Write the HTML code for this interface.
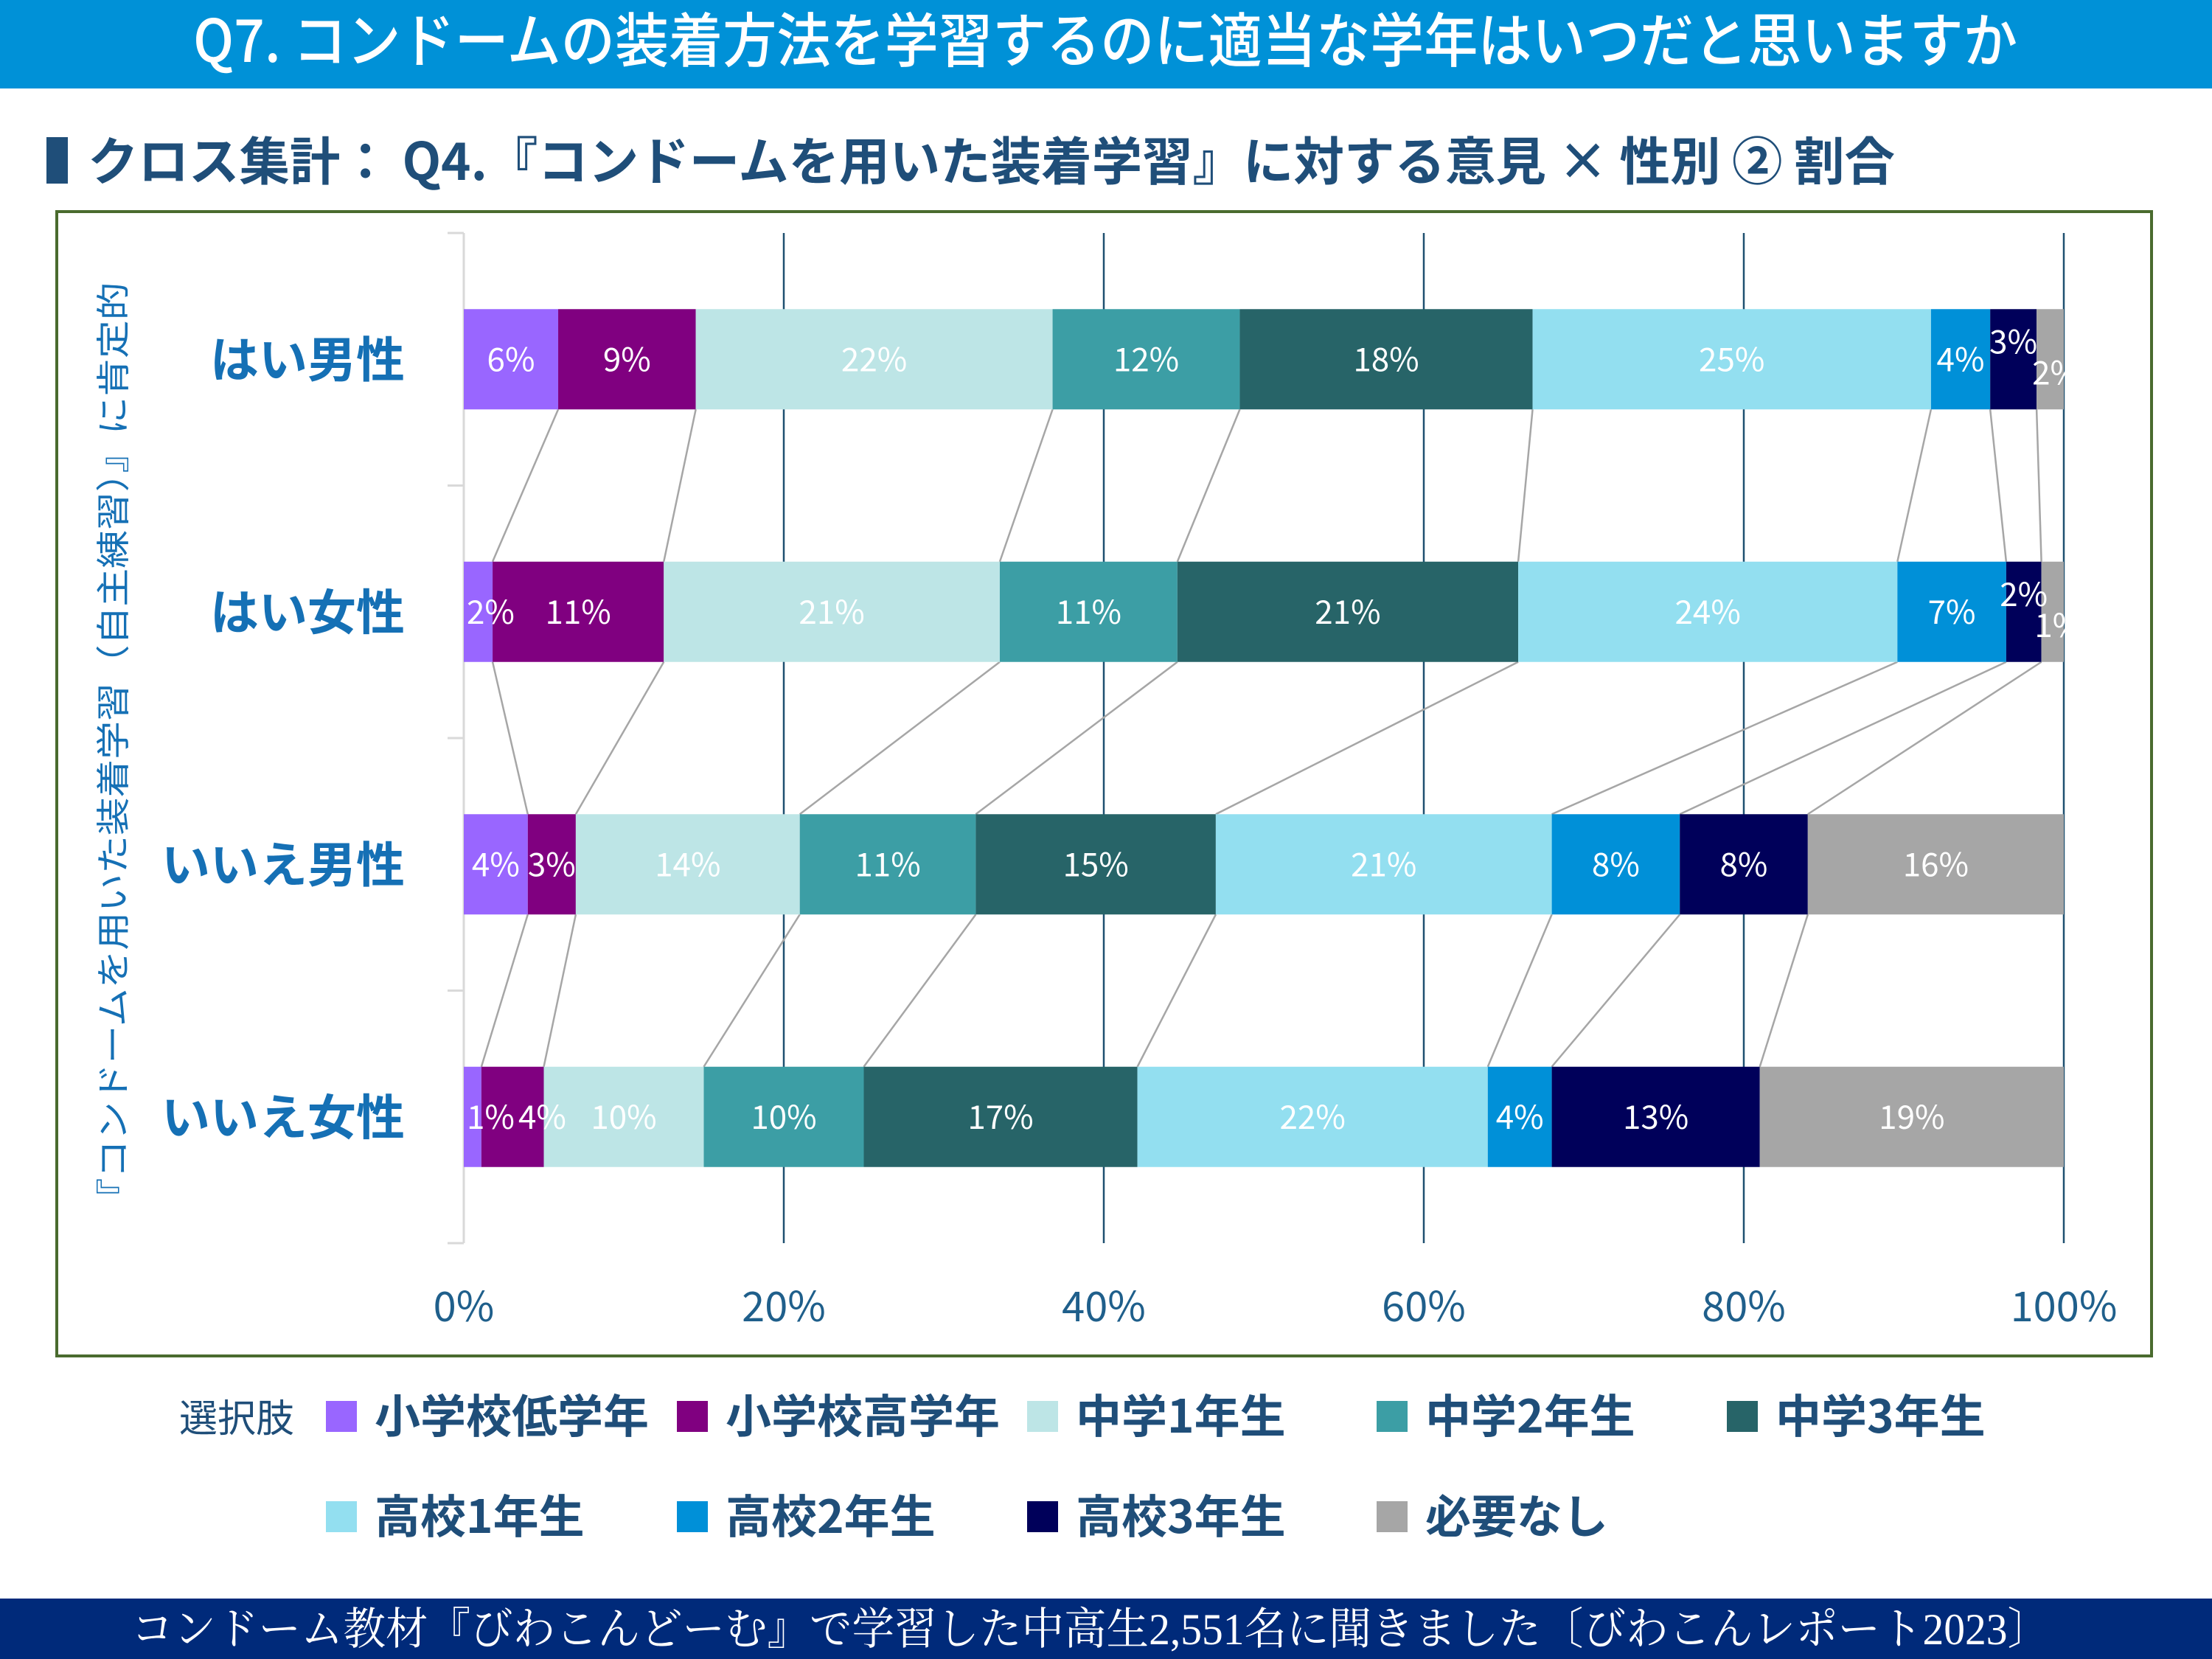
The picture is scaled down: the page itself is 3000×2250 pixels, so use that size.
<!DOCTYPE html>
<html><head><meta charset="utf-8">
<style>
html,body{margin:0;padding:0;background:#fff;}
svg{display:block;}
text{font-family:"Noto Sans CJK JP","Liberation Sans",sans-serif;}
</style></head>
<body>
<svg id="chart" width="3000" height="2250" viewBox="0 0 3000 2250" xmlns="http://www.w3.org/2000/svg">
  <rect x="0" y="0" width="3000" height="120" fill="#0091d7"/>
  <text x="262" y="84" font-size="80" fill="#fff" textLength="2474" lengthAdjust="spacingAndGlyphs" font-weight="500">Q7. コンドームの装着方法を学習するのに適当な学年はいつだと思いますか</text>
  <rect x="63" y="186" width="29" height="63" fill="#1f4e79"/>
  <text x="119" y="244" font-size="70" fill="#1f4e79" font-weight="bold" textLength="2451" lengthAdjust="spacingAndGlyphs">クロス集計： Q4.『コンドームを用いた装着学習』に対する意見 × 性別 ② 割合</text>
  <rect x="77" y="287" width="2841" height="1552" fill="none" stroke="#4a6b2e" stroke-width="4"/>
  <g id="plot"></g>
  <text transform="translate(170,1016) rotate(-90)" font-size="46" fill="#1570b5" text-anchor="middle" textLength="1267" lengthAdjust="spacingAndGlyphs">『コンドームを用いた装着学習（自主練習）』に肯定的</text>
  <g id="legend"></g>
  <rect x="0" y="2168" width="3000" height="82" fill="#002a7a"/>
  <text x="178" y="2230" font-size="60" fill="#fff" textLength="2602" lengthAdjust="spacingAndGlyphs" style="font-family:'Liberation Serif','Noto Serif CJK SC',serif">コンドーム教材『びわこんどーむ』で学習した中高生2,551名に聞きました〔びわこんレポート2023〕</text>
</svg>
<script>
const categories = ["はい男性","はい女性","いいえ男性","いいえ女性"];
const seriesNames = ["小学校低学年","小学校高学年","中学1年生","中学2年生","中学3年生","高校1年生","高校2年生","高校3年生","必要なし"];
const seriesColors = ["#9966ff","#800080","#bde5e6","#3c9ea5","#276468","#93dff0","#0090d8","#00005a","#a6a6a6"];
const row0 = [5.9,8.6,22.3,11.7,18.3,24.9,3.7,2.9,1.7];
const row1 = [1.8,10.7,21.0,11.1,21.3,23.7,6.8,2.2,1.4];
const row2 = [4.0,3.0,14.0,11.0,15.0,21.0,8.0,8.0,16.0];
const row3 = [1.1,3.9,10.0,10.0,17.1,21.9,4.0,13.0,19.0];
const labels0 = ["6%","9%","22%","12%","18%","25%","4%","3%","2%"];
const labels1 = ["2%","11%","21%","11%","21%","24%","7%","2%","1%"];
const labels2 = ["4%","3%","14%","11%","15%","21%","8%","8%","16%"];
const labels3 = ["1%","4%","10%","10%","17%","22%","4%","13%","19%"];
const tickLabels = ["0%","20%","40%","60%","80%","100%"];
const tickValues = [0,20,40,60,80,100];

const rows=[row0,row1,row2,row3], rowLabels=[labels0,labels1,labels2,labels3];
const NS="http://www.w3.org/2000/svg";
const X0=629, X1=2799, YT=316, YB=1686, BH=136;
const xs=v=>X0+(X1-X0)*v/100;
const band=(YB-YT)/categories.length;
const yc=i=>YT+band*(i+0.5);
function mk(tag,attrs,parent){const e=document.createElementNS(NS,tag);for(const k in attrs)e.setAttribute(k,attrs[k]);parent.appendChild(e);return e;}
const plot=document.getElementById('plot');
tickValues.forEach((t,i)=>{
  if(t>0){const g=mk('line',{x1:xs(t),x2:xs(t),y1:YT,y2:YB,stroke:'#1f5070','stroke-width':2.5},plot);
  
  }
  const tl=mk('text',{x:xs(t),y:1792,'font-size':56,fill:'#1f5f8b','text-anchor':'middle'},plot);
  tl.textContent=tickLabels[i];
  
  
});
const ax=mk('line',{x1:X0,x2:X0,y1:YT,y2:YB,stroke:'#d9d9d9','stroke-width':3},plot);


for(let i=0;i<=categories.length;i++){
  const tk=mk('line',{x1:X0-22,x2:X0,y1:YT+band*i,y2:YT+band*i,stroke:'#d9d9d9','stroke-width':3},plot);
  
  
}
const cum=rows.map(r=>{const tot=r.reduce((a,b)=>a+b,0);let c=0;const out=[0];r.forEach(v=>{c+=v*100/tot;out.push(c);});return out;});
for(let i=0;i<rows.length-1;i++){
  for(let j=1;j<seriesNames.length;j++){
    const l=mk('line',{x1:xs(cum[i][j]),y1:yc(i)+BH/2,x2:xs(cum[i+1][j]),y2:yc(i+1)-BH/2,stroke:'#a6a6a6','stroke-width':2.5},plot);
    
    
  }
}
rows.forEach((r,i)=>{
  const cl=mk('text',{x:549,y:yc(i)+24,'font-size':66,fill:'#1570b5','text-anchor':'end','font-weight':'bold'},plot);
  cl.textContent=categories[i];
  
  
  r.forEach((v,j)=>{
    const a=cum[i][j],b=cum[i][j+1];
    const rc=mk('rect',{x:xs(a),y:yc(i)-BH/2,width:xs(b)-xs(a),height:BH,fill:seriesColors[j]},plot);
    
    
  });
});
rows.forEach((r,i)=>{
  r.forEach((v,j)=>{
    const a=cum[i][j],b=cum[i][j+1];
    let cx=(xs(a)+xs(b))/2, cy=yc(i)+16, anchor='middle';
    if((b-a)<3.2 && j>=7){cy = j===7 ? yc(i)-8 : yc(i)+34; cx = j===7?cx:cx+8;}
    if((b-a)<3.2 && j===0){cx=xs(a)+4; anchor='start';}
    if(j===1 && (cum[i][1]-cum[i][0])<1.5 && (b-a)<5){cx=xs(cum[i][0])+74; anchor='start';}
    const t=mk('text',{x:cx,y:cy,'font-size':44,fill:'#fff','text-anchor':anchor},plot);
    t.textContent=rowLabels[i][j];
    
    
  });
});
const leg=document.getElementById('legend');
const lt=mk('text',{x:243,y:1942,'font-size':52,fill:'#1f4e79'},leg);
lt.textContent='選択肢';


const lx=[442,918,1393,1867,2342];
seriesNames.forEach((n,k)=>{
  const x=lx[k%5], y=k<5?1921:2057;
  const sq=mk('rect',{x:x,y:y-21,width:42,height:42,fill:seriesColors[k]},leg);
  
  
  const tx=mk('text',{x:x+66,y:y+22,'font-size':62,fill:'#1f4e79','font-weight':'bold'},leg);
  tx.textContent=n;
  
  
});
</script>
</body></html>
